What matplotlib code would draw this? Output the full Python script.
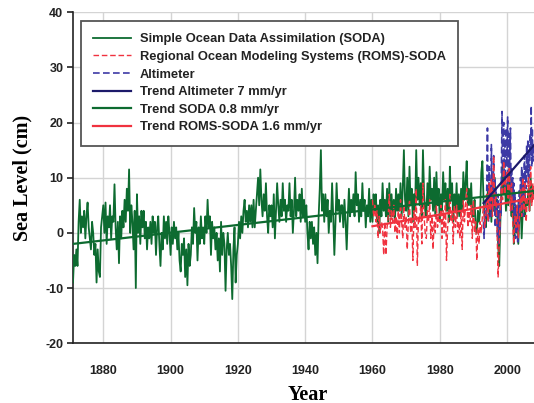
import numpy as np
import matplotlib
matplotlib.use('Agg')
import matplotlib.pyplot as plt

plt.rcParams['axes.unicode_minus'] = False

# sea level anomalies (cm), three values per year (Jan, May, Sep) from 1871
soda_start = 1871
soda_cm = [
    -9, -4, -6,  -3, -6, 2,  6, 0, 3,  1, 4, -1,  3, 5.5, 1,
    -1, -3, 2,  0, -4, -2,  -9, -3, -7,  -8, 1, 3,  5, 0, 5.5,
    -2, 3, 1,  5, -1, 3,  2, 8.8, 1,  -3, 2, -5.5,  3, -1, 4,
    1, 6, 2,  8, 4, 11.5,  0, 5, 2,  -3, 4, -10,  7, 0, 3,
    -2, 4, 1,  4, -1, 2,  -3, 1, -1,  2, -2, 3,  0, 2, -4,
    1, 3, -2,  -6, 0, -3,  3, -1, 2,  -2, 3, 0,  -4, 1, -2,
    2, -1, 1,  -3, 0, -5,  -7, -2, -4,  -1, -8, -3,  -9.5, -2, -6,
    -4, 1, -2,  4.5, 0, 2,  -5, 1, -2,  3, -1, 1,  -2, 3, 0,
    6, 1, 3,  -4, 2, -1,  1, -3, 0,  -5, -1, -7,  2, -4, 0,
    -2, -10.5, -3,  0, -4, -2,  -6, -12, -3,  1, -9, -4,  -2, 2, -1,
    3, 0, 4,  6, 2, 4,  1, 5, 2,  5, 1, 6,  1, 4, 7,
    10, 5, 11.5,  6, 3, 7,  4, 9, 3,  0, 5, 3,  5, 1, 7,
    -1, 4, 9,  5, 2, 6,  3, 9, 4,  6, 2, 5,  4, 9, 3,
    6, 0, 4,  10, 3, 6,  4, 7, 2,  8, 3, 6,  2, 5, 0,
    -3, 2, -1,  2, -2, 1,  -4, 0, -5.5,  3, 8, 15,  4, 7, 2,
    7, 3, 6,  0, 4, 2,  9, 3, -4,  2, 9, 4,  6, 2, 5,
    5, 1, 6,  2, -3, 3,  8, 3, 6,  4, 7, 3,  11, 5, 7,
    2, 6, 3,  9, 4, 6,  1, 5, 3,  8, 2, 6,  2, 7, 4,
    7, 2, 5,  0, 6, 3,  9, 4, 6,  3, 8, 2,  9, 3, 7,
    3, 6, 2,  8, 4, 7,  4, 9, 3,  8, 15, 6,  4, 10, 3,
    12, 5, 8,  2, 7, 4,  15, 6, 10,  5, 9, 3,  15, 7, 4,
    3, 9, 5,  12, 6, 8,  4, 10, 3,  11, 5, 8,  2, 7, 4,
    11, 6, 9,  4, 8, 2,  12, 6, 9,  2, 7, 4,  9, 3, 7,
    3, 8, 4,  11, 6, 9,  13, 5, 8,  5, 9, 3,  3, 6, 1,
    0, 4, 2,  4, 11, 13,  6, 3, 1,  5, 8, 3,  7, 2, 9,
    4, 10, 3,  6, -2, -6,  2, 8, 12,  7, 10, 4,  9, 5, 11,
    6, 3, 8,  -2, 4, 0,  5, -2, 3,  7, -1, 4,  9, 3, 6,
    5, 8, 4,  10, 6, 8,  7,
]

roms_start = 1960
roms_cm = [
    6, 3, 5,  2, 4, -1,  3, 0, 2,  1, -4, 2,  -4, 1, 3,
    7, 1, 4,  2, 5, 0,  3, -1, 4,  0, 6, 2,  -1, 5, 1,
    3, -3, 2,  6, 0, 3,  -5, 4, 1,  8, -6, 3,  2, 5, -2,
    9, 3, 0,  -1, 4, 2,  6, -1, 3,  -3, 2, 0,  5, 1, 3,
    2, 5, -1,  4, 0, 6,  -5, 1, 3,  7, 2, 4,  -2, 5, 1,
    5, 0, 2,  -1, 4, -3,  6, 2, 5,  8, 1, 4,  2, 5, -1,
    6, 0, 2,  -5, 1, -2,  2, 0, 3,  5, 1, 3,  7, 2, 9,
    4, 10, 3,  14, 5, 7,  1, -8, -2,  4, 9, 6,  13, 7, 10,
    11, 6, 12,  4, 9, 2,  -2, 3, 1,  5, -1, 2,  8, 3, 10,
    4, 9, 2,  6, 10, 4,  12, 5, 9,  6,
]

# altimeter, six values per year from 1993
alt_start = 1993
alt_cm = [
    2, -1, 4, 1, 6, 3,  10, 19, 6, 2, 12, 5,  8, 3, 16, 7, 11, 4,
    14, 6, 10, 1, 8, 3,  5, -1, 7, -2, 4, 0,  6, 3, 12, 22, 9, 15,
    20, 10, 17, 8, 19, 12,  15, 21, 9, 18, 11, 14,  19, 8, 12, 4, 10, 6,
    9, 2, 7, -1, 5, 1,  3, -2, 6, 1, 8, 4,  10, 5, 12, 7, 11, 3,
    9, 14, 6, 12, 8, 16,  11, 17, 9, 15, 10, 18,  14, 23, 12, 19, 13, 16,
    14,
]

# trend lines, end points
trend_alt_years = [1993, 2008]
trend_alt_cm = [5.4, 15.9]
trend_soda_years = [1871, 2008]
trend_soda_cm = [-2.0, 7.6]
trend_roms_years = [1960, 2008]
trend_roms_cm = [1.2, 6.3]

soda_years = soda_start + np.arange(len(soda_cm)) / 3
roms_years = roms_start + np.arange(len(roms_cm)) / 3
alt_years = alt_start + np.arange(len(alt_cm)) / 6

green = '#0d6b30'
red = '#f0323f'
blue = '#3d3aa5'
navy = '#1c1a6a'

fig = plt.figure(figsize=(5.34, 4.03), dpi=100)
ax = fig.add_axes([73 / 534, 1 - 343.2 / 403, 461 / 534, 331 / 403])

l1, = ax.plot(soda_years, soda_cm, color=green, lw=1.3, zorder=3,
              label='Simple Ocean Data Assimilation (SODA)')
l3, = ax.plot(alt_years, alt_cm, color=blue, lw=1.2, dashes=[4, 2], zorder=4,
              label='Altimeter')
l2, = ax.plot(roms_years, roms_cm, color=red, lw=1.0, dashes=[4, 2], zorder=5,
              label='Regional Ocean Modeling Systems (ROMS)-SODA')
l5, = ax.plot(trend_soda_years, trend_soda_cm, color=green, lw=1.6, zorder=6,
              label='Trend SODA 0.8 mm/yr')
l6, = ax.plot(trend_roms_years, trend_roms_cm, color=red, lw=1.6, zorder=6,
              label='Trend ROMS-SODA 1.6 mm/yr')
l4, = ax.plot(trend_alt_years, trend_alt_cm, color=navy, lw=1.6, zorder=7,
              label='Trend Altimeter 7 mm/yr')

ax.set_xlim(1871, 2008)
ax.set_ylim(-20, 40)
ax.set_xticks(range(1880, 2001, 20))
ax.set_yticks(range(-20, 41, 10))
ax.grid(True, color='#d4d4d4', lw=1)
ax.set_axisbelow(True)
for s in ['top', 'right']:
    ax.spines[s].set_visible(False)
for s in ['left', 'bottom']:
    ax.spines[s].set_color('#222222')
    ax.spines[s].set_linewidth(1.2)
ax.tick_params(axis='y', length=4, width=1.2, pad=3, color='#222222')
ax.tick_params(axis='x', length=0, pad=16)
for lab in ax.get_xticklabels() + ax.get_yticklabels():
    lab.set_fontfamily('Liberation Sans')
    lab.set_fontweight('bold')
    lab.set_fontsize(9)
    lab.set_color('#222222')

ax.set_xlabel('Year', family='Liberation Serif', weight='bold', fontsize=14.5, va='center')
ax.xaxis.set_label_coords(0.51, -0.155)
ax.set_ylabel('Sea Level (cm)', family='Liberation Serif', weight='bold', fontsize=14.5, labelpad=9)

leg = ax.legend(handles=[l1, l2, l3, l4, l5, l6], loc='upper left',
                bbox_to_anchor=(0.0167, 0.9734), borderaxespad=0,
                prop={'family': 'Liberation Sans', 'weight': 'bold', 'size': 9.3},
                handlelength=2.95, handletextpad=0.7, labelspacing=0.43,
                borderpad=0.95, fancybox=False, framealpha=1)
leg.get_frame().set_edgecolor('#555555')
leg.get_frame().set_linewidth(1.3)
for t in leg.get_texts():
    t.set_color('#222222')
leg.set_zorder(10)

fig.savefig('out.png', dpi=100)
